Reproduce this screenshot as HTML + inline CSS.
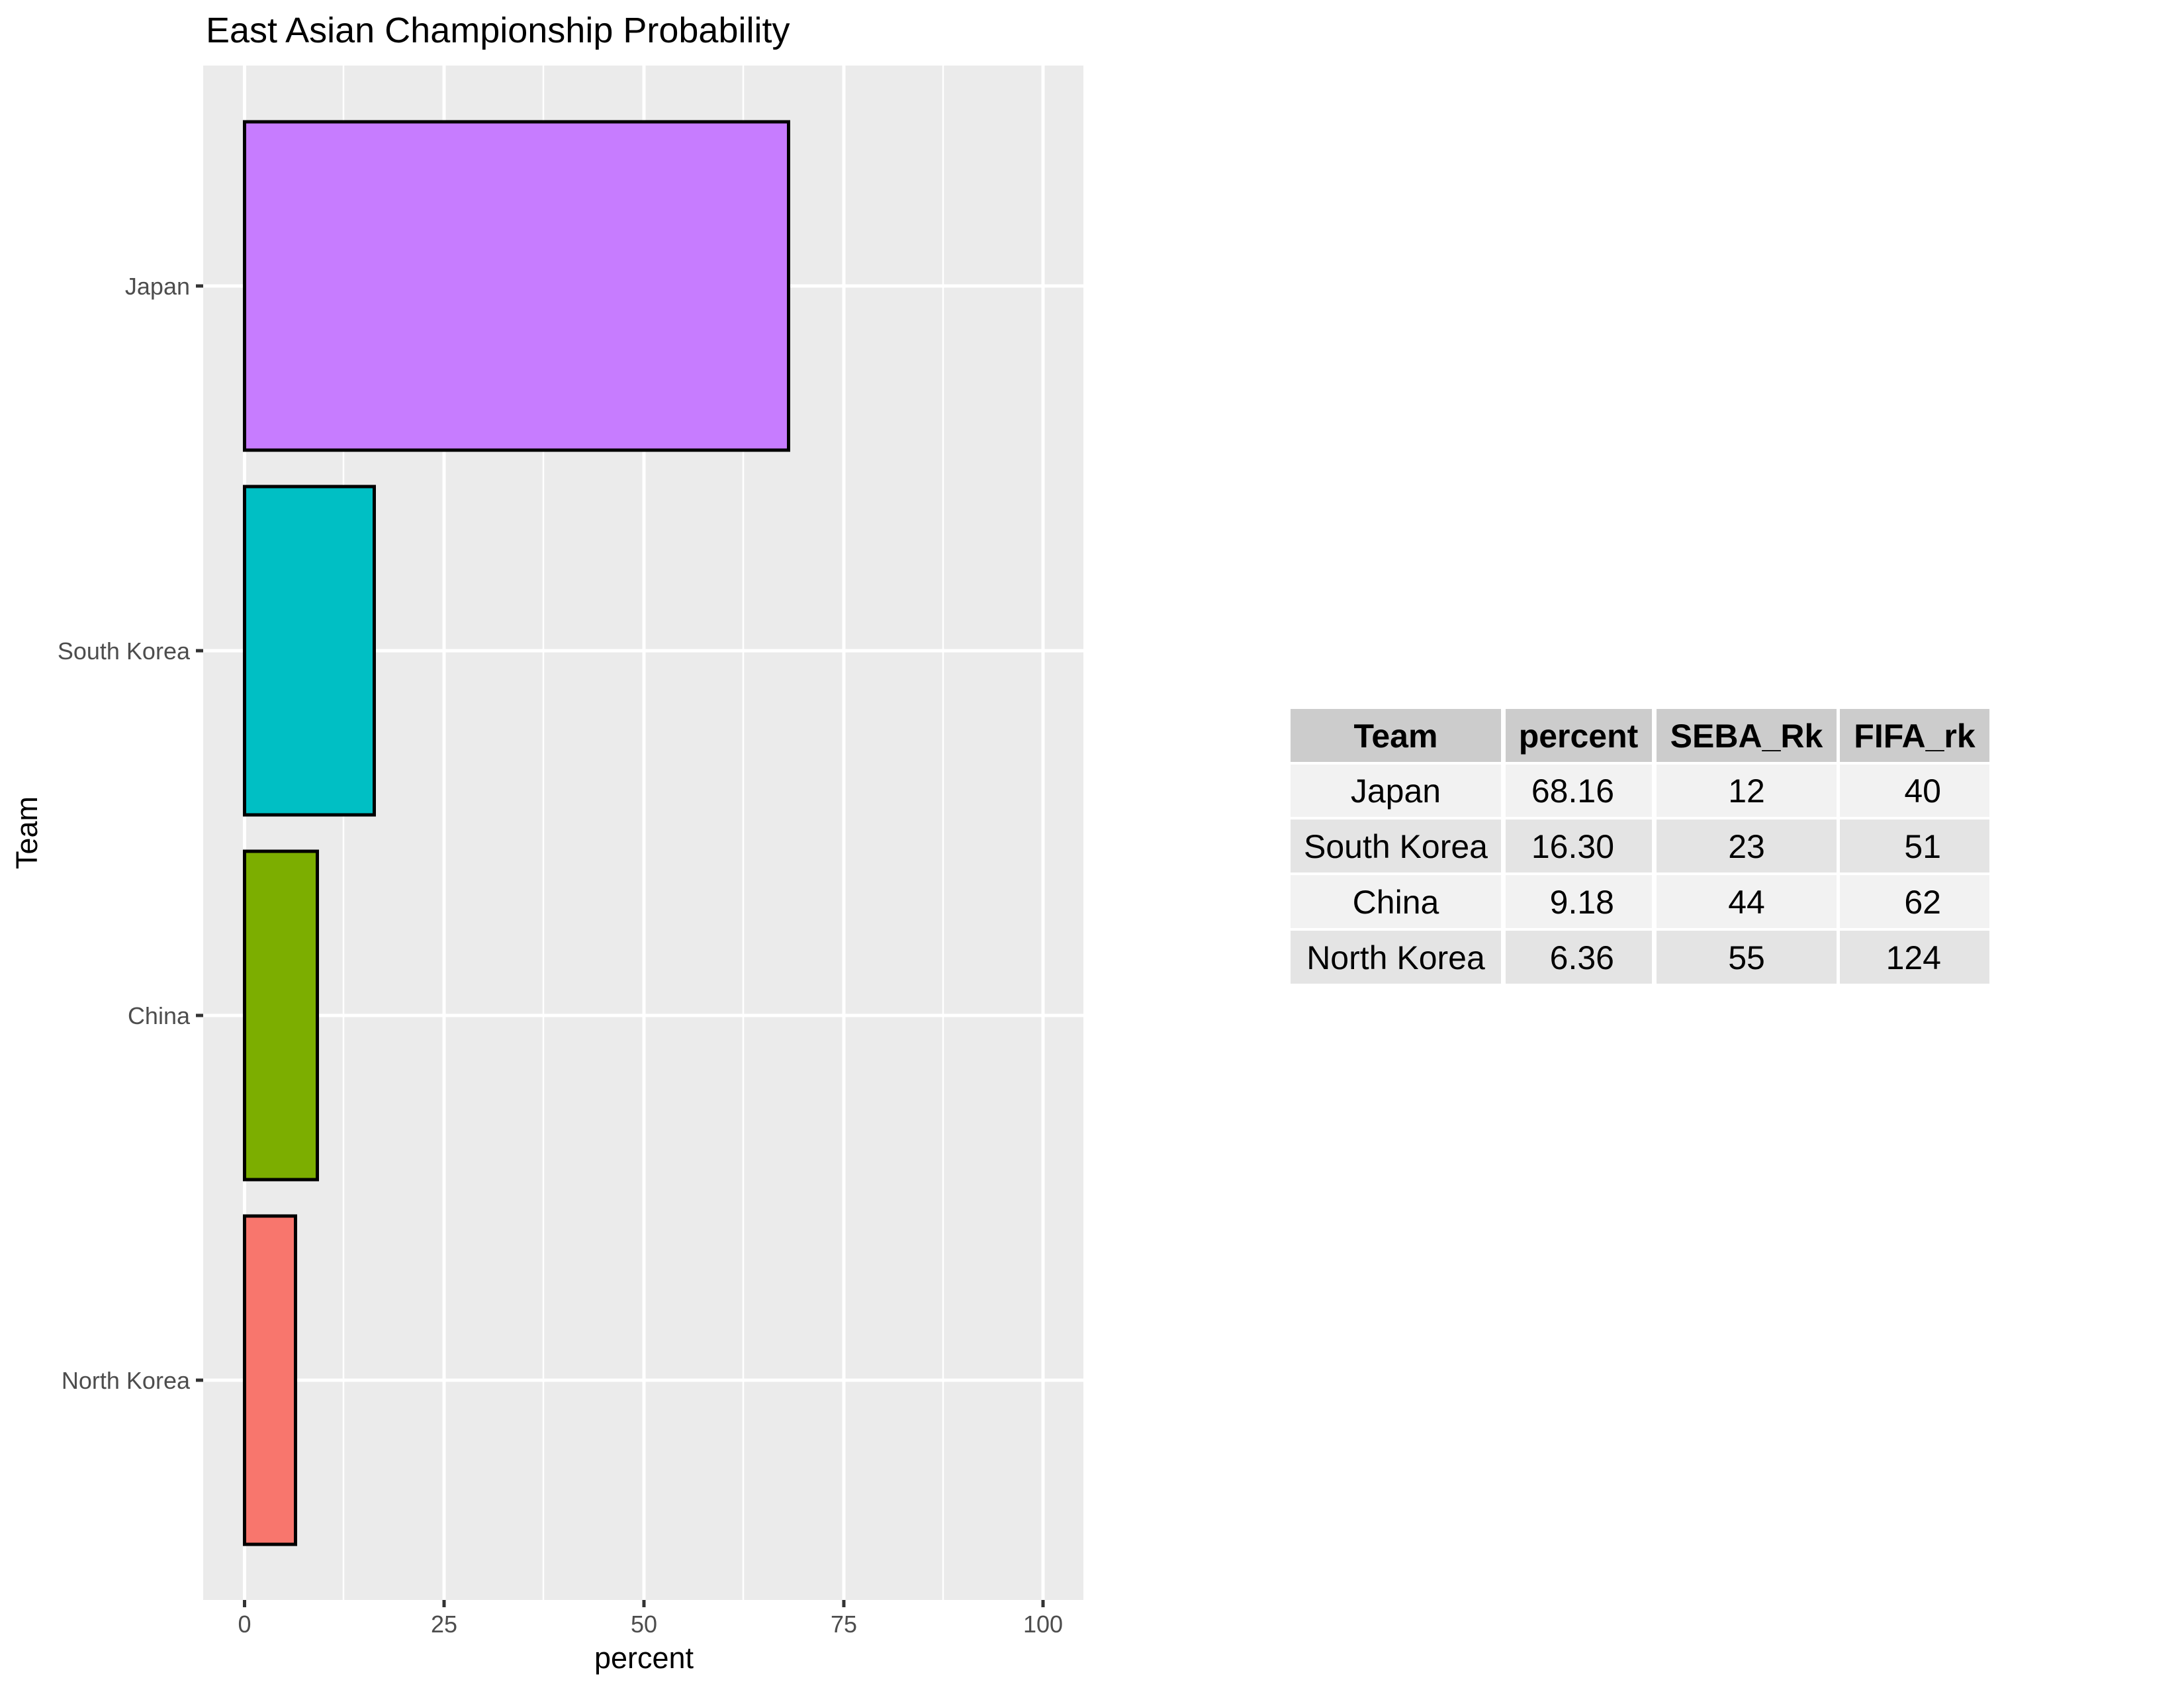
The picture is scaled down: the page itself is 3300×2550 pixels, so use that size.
<!DOCTYPE html>
<html><head><meta charset="utf-8"><style>
html,body{margin:0;padding:0;background:#fff;}
svg{display:block;}
text{font-family:"Liberation Sans",Arial,sans-serif;}
</style></head><body>
<svg width="3300" height="2550" viewBox="0 0 3300 2550" xmlns="http://www.w3.org/2000/svg">
<rect width="3300" height="2550" fill="#fff"/>
<text x="311" y="64" font-size="54" fill="#000">East Asian Championship Probability</text>
<rect x="307" y="99" width="1330" height="2318" fill="#ebebeb"/>
<g stroke="#fff" stroke-width="2.5">
<line x1="519" y1="99" x2="519" y2="2417"/><line x1="821" y1="99" x2="821" y2="2417"/>
<line x1="1123" y1="99" x2="1123" y2="2417"/><line x1="1425" y1="99" x2="1425" y2="2417"/>
</g>
<g stroke="#fff" stroke-width="5">
<line x1="369.5" y1="99" x2="369.5" y2="2417"/><line x1="671" y1="99" x2="671" y2="2417"/>
<line x1="973" y1="99" x2="973" y2="2417"/><line x1="1275" y1="99" x2="1275" y2="2417"/>
<line x1="1576" y1="99" x2="1576" y2="2417"/>
<line x1="307" y1="432" x2="1637" y2="432"/><line x1="307" y1="983" x2="1637" y2="983"/>
<line x1="307" y1="1534" x2="1637" y2="1534"/><line x1="307" y1="2085" x2="1637" y2="2085"/>
</g>
<g stroke="#000" stroke-width="5">
<rect x="369.5" y="184" width="822" height="496" fill="#c77cff"/>
<rect x="369.5" y="735" width="196" height="496" fill="#00bfc4"/>
<rect x="369.5" y="1286" width="110" height="496" fill="#7cae00"/>
<rect x="369.5" y="1837" width="77" height="496" fill="#f8766d"/>
</g>
<g stroke="#333" stroke-width="5">
<line x1="296" y1="432" x2="307" y2="432"/><line x1="296" y1="983" x2="307" y2="983"/>
<line x1="296" y1="1534" x2="307" y2="1534"/><line x1="296" y1="2085" x2="307" y2="2085"/>
<line x1="369.5" y1="2417" x2="369.5" y2="2428"/><line x1="671" y1="2417" x2="671" y2="2428"/>
<line x1="973" y1="2417" x2="973" y2="2428"/><line x1="1275" y1="2417" x2="1275" y2="2428"/>
<line x1="1576" y1="2417" x2="1576" y2="2428"/>
</g>
<g font-size="36" fill="#4d4d4d" text-anchor="end">
<text x="287" y="445">Japan</text><text x="287" y="996">South Korea</text>
<text x="287" y="1547">China</text><text x="287" y="2098">North Korea</text>
</g>
<g font-size="36" fill="#4d4d4d" text-anchor="middle">
<text x="369.5" y="2466">0</text><text x="671" y="2466">25</text><text x="973" y="2466">50</text>
<text x="1275" y="2466">75</text><text x="1576" y="2466">100</text>
</g>
<text x="973" y="2520" font-size="45" text-anchor="middle" fill="#000">percent</text>
<text transform="translate(56,1258) rotate(-90)" font-size="45" text-anchor="middle" fill="#000">Team</text>
<!-- table -->
<g fill="#cccccc">
<rect x="1950" y="1071" width="318" height="80"/><rect x="2275" y="1071" width="221" height="80"/>
<rect x="2503" y="1071" width="272" height="80"/><rect x="2780" y="1071" width="226" height="80"/>
</g>
<g fill="#f2f2f2">
<rect x="1950" y="1155" width="318" height="79"/><rect x="2275" y="1155" width="221" height="79"/>
<rect x="2503" y="1155" width="272" height="79"/><rect x="2780" y="1155" width="226" height="79"/>
<rect x="1950" y="1322" width="318" height="80"/><rect x="2275" y="1322" width="221" height="80"/>
<rect x="2503" y="1322" width="272" height="80"/><rect x="2780" y="1322" width="226" height="80"/>
</g>
<g fill="#e4e4e4">
<rect x="1950" y="1238" width="318" height="80"/><rect x="2275" y="1238" width="221" height="80"/>
<rect x="2503" y="1238" width="272" height="80"/><rect x="2780" y="1238" width="226" height="80"/>
<rect x="1950" y="1406" width="318" height="80"/><rect x="2275" y="1406" width="221" height="80"/>
<rect x="2503" y="1406" width="272" height="80"/><rect x="2780" y="1406" width="226" height="80"/>
</g>
<g font-size="50" font-weight="bold" text-anchor="middle" fill="#000">
<text x="2109" y="1129">Team</text><text x="2385" y="1129">percent</text>
<text x="2639" y="1129">SEBA_Rk</text><text x="2893" y="1129">FIFA_rk</text>
</g>
<g font-size="50" fill="#000">
<g text-anchor="middle">
<text x="2109" y="1212">Japan</text><text x="2109" y="1296">South Korea</text>
<text x="2109" y="1380">China</text><text x="2109" y="1464">North Korea</text>
<text x="2639" y="1212">12</text><text x="2639" y="1296">23</text>
<text x="2639" y="1380">44</text><text x="2639" y="1464">55</text>
</g>
<g text-anchor="end">
<text x="2439" y="1212">68.16</text><text x="2439" y="1296">16.30</text>
<text x="2439" y="1380">9.18</text><text x="2439" y="1464">6.36</text>
<text x="2933" y="1212">40</text><text x="2933" y="1296">51</text>
<text x="2933" y="1380">62</text><text x="2933" y="1464">124</text>
</g>
</g>
</svg>
</body></html>
